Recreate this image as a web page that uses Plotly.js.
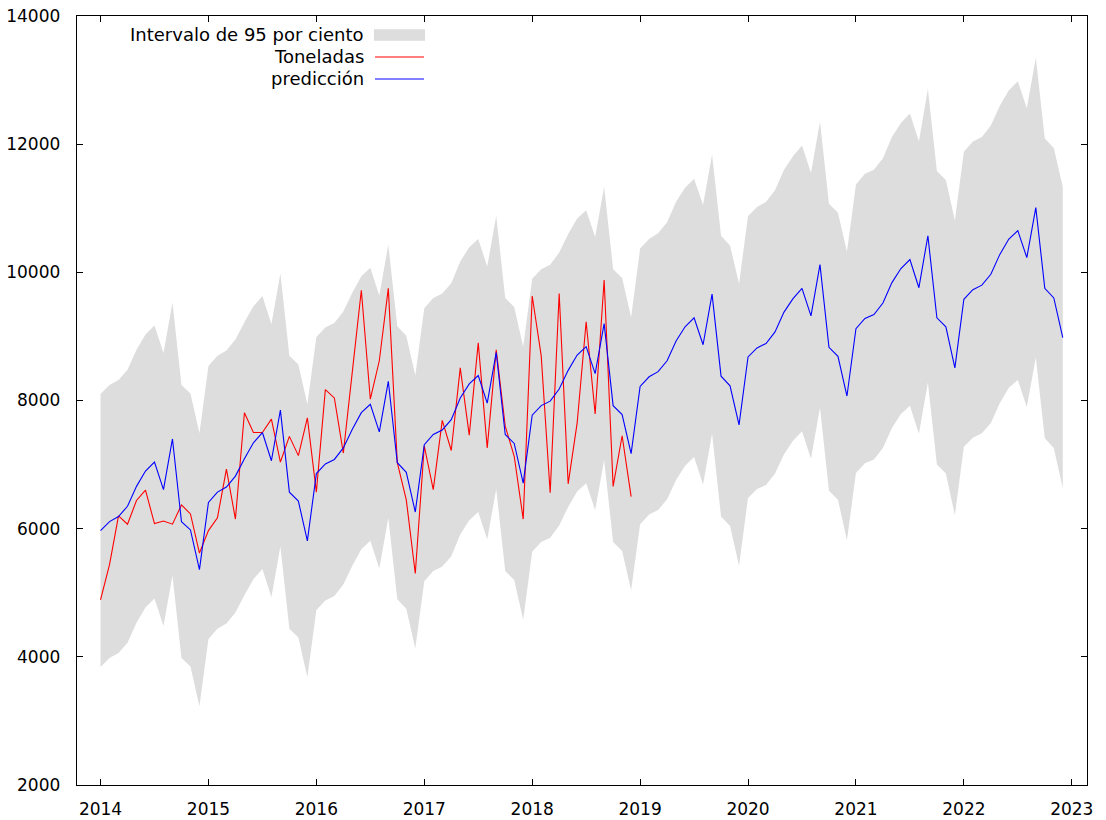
<!DOCTYPE html>
<html>
<head>
<meta charset="utf-8">
<script src="https://cdn.plot.ly/plotly-3.0.1.min.js"></script>
<style>html,body{margin:0;padding:0;background:#fff;}#chart{width:1106px;height:820px;}</style>
</head>
<body>
<div id="chart"></div>
<script>
// Monthly series starting January 2014
const startYear = 2014;

const toneladas = [
  4890, 5440, 6200, 6070, 6440, 6600, 6080, 6120, 6070, 6370, 6230, 5620,
  5970, 6170, 6930, 6150, 7810, 7500, 7500, 7710, 7040, 7440, 7140, 7730,
  6570, 8170, 8040, 7180, 8450, 9720, 8020, 8620, 9750, 7030, 6450, 5300,
  7290, 6610, 7690, 7220, 8510, 7460, 8900, 7260, 8790, 7600, 7130, 6150,
  9630, 8700, 6560, 9670, 6700, 7650, 9230, 7790, 9880, 6660, 7450, 6500
];

const prediccion = [
  5970, 6110, 6190, 6350, 6660, 6900, 7040, 6610, 7400, 6110, 5980, 5360,
  6410, 6570, 6650, 6820, 7090, 7340, 7500, 7060, 7850, 6570, 6430, 5810,
  6860, 7010, 7080, 7260, 7550, 7810, 7940, 7510, 8300, 7030, 6880, 6260,
  7310, 7470, 7540, 7700, 8040, 8260, 8390, 7960, 8750, 7470, 7330, 6710,
  7770, 7920, 7990, 8180, 8470, 8710, 8840, 8420, 9200, 7920, 7780, 7170,
  8220, 8370, 8450, 8620, 8930, 9150, 9290, 8870, 9660, 8380, 8230, 7620,
  8680, 8820, 8890, 9070, 9380, 9590, 9750, 9320, 10120, 8830, 8690, 8070,
  9120, 9280, 9340, 9520, 9840, 10060, 10200, 9760, 10570, 9290, 9150, 8510,
  9580, 9730, 9800, 9970, 10280, 10520, 10650, 10230, 11010, 9750, 9600, 8980
];

const limiteSuperior = [
  8100, 8240, 8320, 8480, 8790, 9030, 9170, 8740, 9530, 8240, 8110, 7490,
  8540, 8700, 8780, 8950, 9220, 9470, 9630, 9190, 9980, 8700, 8560, 7940,
  8990, 9140, 9210, 9390, 9680, 9940, 10070, 9640, 10430, 9160, 9010, 8390,
  9440, 9600, 9670, 9830, 10170, 10390, 10520, 10090, 10880, 9600, 9460, 8840,
  9900, 10050, 10120, 10310, 10600, 10840, 10970, 10550, 11330, 10050, 9910, 9300,
  10370, 10520, 10610, 10780, 11100, 11320, 11460, 11050, 11840, 10570, 10420, 9820,
  10880, 11020, 11100, 11280, 11600, 11810, 11980, 11550, 12350, 11070, 10930, 10320,
  11370, 11540, 11600, 11780, 12110, 12330, 12480, 12040, 12860, 11580, 11440, 10810,
  11880, 12040, 12110, 12290, 12600, 12840, 12980, 12560, 13350, 12090, 11940, 11330
];

const limiteInferior = [
  3840, 3980, 4060, 4220, 4530, 4770, 4910, 4480, 5270, 3980, 3850, 3230,
  4280, 4440, 4520, 4690, 4960, 5210, 5370, 4930, 5720, 4440, 4300, 3680,
  4730, 4880, 4950, 5130, 5420, 5680, 5810, 5380, 6170, 4900, 4750, 4130,
  5180, 5340, 5410, 5570, 5910, 6130, 6260, 5830, 6620, 5340, 5200, 4580,
  5640, 5790, 5860, 6050, 6340, 6580, 6710, 6290, 7070, 5790, 5650, 5040,
  6070, 6220, 6290, 6460, 6760, 6980, 7120, 6690, 7480, 6190, 6040, 5420,
  6480, 6620, 6680, 6860, 7160, 7370, 7520, 7090, 7890, 6590, 6450, 5820,
  6870, 7020, 7080, 7260, 7570, 7790, 7920, 7480, 8280, 7000, 6860, 6210,
  7280, 7420, 7490, 7650, 7960, 8200, 8320, 7900, 8670, 7410, 7260, 6630
];

const xTicks = [2014, 2015, 2016, 2017, 2018, 2019, 2020, 2021, 2022, 2023];
const yTicks = [2000, 4000, 6000, 8000, 10000, 12000, 14000];

const legendNames = ['Intervalo de 95 por ciento', 'Toneladas', 'predicción'];

const fechas = n => Array.from({length: n}, (_, i) => startYear + i / 12);

const xPred = fechas(prediccion.length);
const xObs = fechas(toneladas.length);

const traces = [
  {x: xPred, y: limiteSuperior, type: 'scatter', mode: 'lines',
   line: {width: 0, color: 'rgba(0,0,0,0)'}, hoverinfo: 'skip', showlegend: false},
  {x: xPred, y: limiteInferior, type: 'scatter', mode: 'lines', fill: 'tonexty',
   fillcolor: '#dddddd', line: {width: 0, color: 'rgba(0,0,0,0)'}, name: legendNames[0], showlegend: false},
  {x: xObs, y: toneladas, type: 'scatter', mode: 'lines',
   line: {color: '#ff0000', width: 1.1}, name: legendNames[1], showlegend: false},
  {x: xPred, y: prediccion, type: 'scatter', mode: 'lines',
   line: {color: '#0000ff', width: 1.1}, name: legendNames[2], showlegend: false}
];

const tickFont = {family: 'DejaVu Sans, Verdana, sans-serif', size: 17, color: '#000000'};
const legFont = {family: 'DejaVu Sans, Verdana, sans-serif', size: 18, color: '#000000'};

// legend drawn gnuplot-style (text right-aligned, key sample to the right)
const legX = 0.2865, keyX0 = 0.2950, keyX1 = 0.3436;
const legY = [0.9753, 0.9467, 0.9181];

const annotations = legendNames.map((t, i) => ({
  text: t, xref: 'paper', yref: 'paper', x: legX, y: legY[i],
  xanchor: 'right', yanchor: 'middle', showarrow: false, font: legFont
}));

const shapes = [
  {type: 'rect', xref: 'paper', yref: 'paper', x0: keyX0 - 0.001, x1: keyX1 + 0.001,
   y0: legY[0] - 0.0075, y1: legY[0] + 0.0075, fillcolor: '#dddddd', line: {width: 0}},
  {type: 'line', xref: 'paper', yref: 'paper', x0: keyX0, x1: keyX1, y0: legY[1], y1: legY[1],
   line: {color: '#ff0000', width: 1.1}},
  {type: 'line', xref: 'paper', yref: 'paper', x0: keyX0, x1: keyX1, y0: legY[2], y1: legY[2],
   line: {color: '#0000ff', width: 1.1}}
];

const layout = {
  width: 1106, height: 820,
  margin: {l: 77, r: 19, t: 16, b: 35, pad: 0},
  paper_bgcolor: '#ffffff', plot_bgcolor: '#ffffff',
  font: tickFont,
  showlegend: false,
  xaxis: {
    range: [2013.782, 2023.141], tickvals: xTicks, ticktext: xTicks.map(String),
    ticks: 'inside', ticklen: 6, tickwidth: 1, tickcolor: '#000',
    showline: true, linecolor: '#000', linewidth: 1.3, mirror: 'allticks',
    showgrid: false, zeroline: false, tickfont: tickFont, ticklabelstandoff: 8
  },
  yaxis: {
    range: [2000, 14000], tickvals: yTicks, ticktext: yTicks.map(String),
    ticks: 'inside', ticklen: 6, tickwidth: 1, tickcolor: '#000',
    showline: true, linecolor: '#000', linewidth: 1.3, mirror: 'allticks',
    showgrid: false, zeroline: false, tickfont: tickFont, ticklabelstandoff: 12
  },
  annotations: annotations,
  shapes: shapes
};

Plotly.newPlot('chart', traces, layout, {displayModeBar: false, staticPlot: true});
</script>
</body>
</html>
